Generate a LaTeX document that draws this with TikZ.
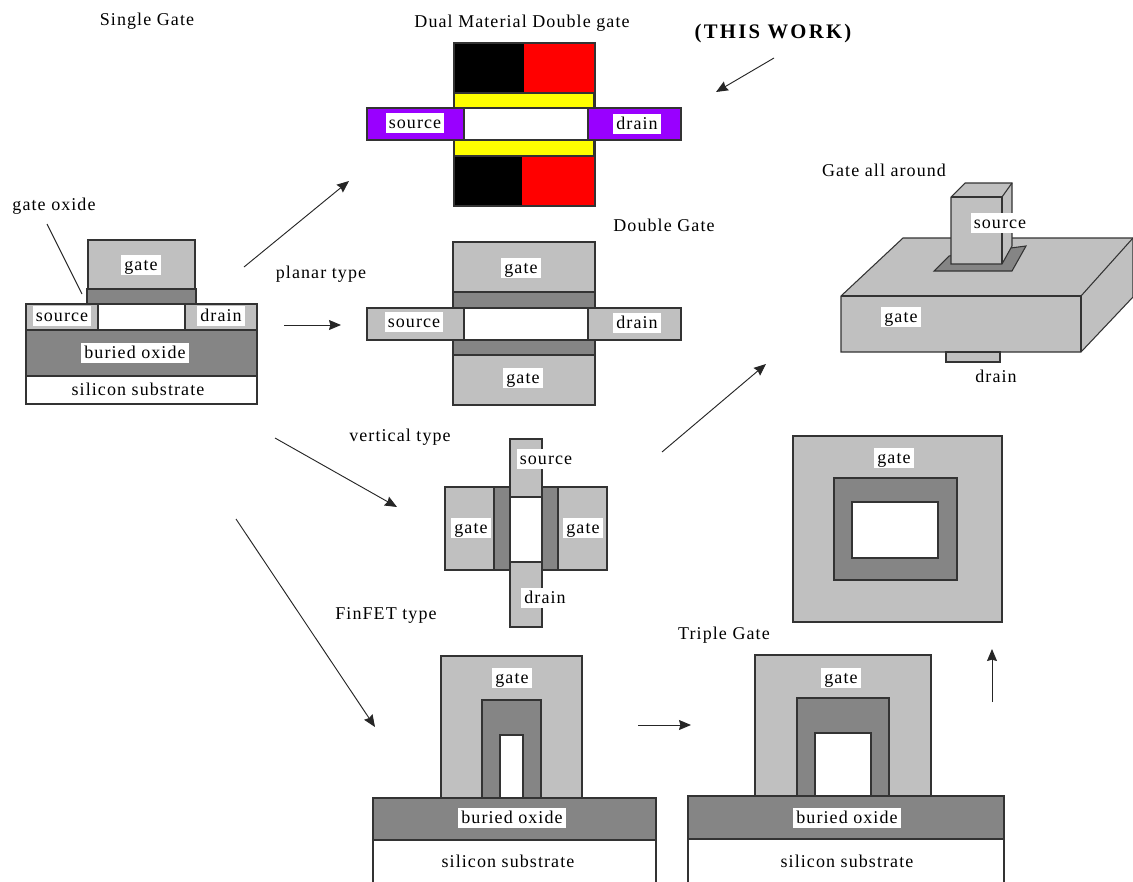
\documentclass[tikz,border=0pt]{standalone}
\usepackage{fontspec}
\setmainfont[LetterSpace=6]{Liberation Serif}
\usetikzlibrary{arrows.meta}
\definecolor{lgray}{HTML}{C0C0C0}
\definecolor{dgray}{HTML}{858585}
\definecolor{purp}{HTML}{9900FF}
\definecolor{yell}{HTML}{FFFF00}
\definecolor{redd}{HTML}{FF0000}
\tikzset{
  x=0.75pt,y=-0.75pt,
  box/.style={draw=black!80,line width=0.8pt},
  gatefill/.style={box,fill=lgray},
  oxfill/.style={box,fill=dgray},
  whitefill/.style={box,fill=white},
  purpfill/.style={box,fill=purp},
  lab/.style={fill=white,inner xsep=2.2pt,inner ysep=1.5pt,yshift=-1pt,font=\fontsize{13.5}{15}\selectfont,text height=9.5pt,text depth=2.5pt},
  captxt/.style={inner sep=0pt,yshift=-1pt,font=\fontsize{13.5}{15}\selectfont,text height=9.5pt,text depth=2.5pt},
  arr/.style={draw=black!85,line width=0.7pt,-{Stealth[length=9pt,width=7.5pt,inset=1pt]}},
  plain/.style={draw=black!85,line width=0.7pt}
}
\begin{document}
\begin{tikzpicture}
\useasboundingbox (0,0) rectangle (1133,882);
% ---- Single gate
\node[captxt] (tSingle) at (147,19) {Single Gate};
\node[captxt] (tOxide) at (54,204) {gate oxide};
\draw[gatefill] (88,240) rectangle (195,289);
\draw[whitefill] (26,304) rectangle (257,404);
\draw[gatefill] (26,304) rectangle (98,330);
\draw[gatefill] (185,304) rectangle (257,330);
\draw[oxfill] (26,330) rectangle (257,376);
\draw[oxfill] (87,289) rectangle (196,304);
\node[lab] (sSrc) at (62,315) {source};
\node[lab] (sDrn) at (221,315) {drain};
\node[lab] (sGate) at (141,264) {gate};
\node[lab] (sBox) at (135,352) {buried oxide};
\node[captxt] (sSub) at (138,389) {silicon substrate};
\coordinate (oxA) at (47,224);
\coordinate (oxB) at (82,294);
\draw[plain] (oxA) -- (oxB);
% ---- Dual material
\node[captxt] (tDual) at (522,21) {Dual Material Double gate};
\node[captxt,font=\fontsize{15.5}{17}\selectfont\bfseries\addfontfeature{LetterSpace=11}] (tWork) at (773,32) {(THIS WORK)};
\fill[black] (454,43) rectangle (524,93);
\fill[redd] (524,43) rectangle (595,93);
\fill[black] (454,156) rectangle (522,206);
\fill[redd] (522,156) rectangle (595,206);
\draw[box] (454,43) rectangle (595,206);
\draw[box,fill=yell] (454,93) rectangle (594,108);
\draw[box,fill=yell] (454,140) rectangle (594,156);
\draw[purpfill] (367,108) rectangle (464,140);
\draw[purpfill] (588,108) rectangle (681,140);
\draw[whitefill] (464,108) rectangle (588,140);
\node[lab] (dSrc) at (415,122) {source};
\node[lab] (dDrn) at (637,123) {drain};
\coordinate (wkA) at (774,58);
\coordinate (wkB) at (716,92);
\draw[arr] (wkA) -- (wkB);
% ---- Double gate
\node[captxt] (tDouble) at (664,225) {Double Gate};
\draw[gatefill] (453,242) rectangle (595,292);
\draw[gatefill] (453,355) rectangle (595,405);
\draw[oxfill] (453,292) rectangle (595,308);
\draw[oxfill] (453,340) rectangle (595,355);
\draw[gatefill] (367,308) rectangle (464,340);
\draw[gatefill] (588,308) rectangle (681,340);
\draw[whitefill] (464,308) rectangle (588,340);
\node[lab] (gGate1) at (521,267) {gate};
\node[lab] (gGate2) at (523,377) {gate};
\node[lab] (gSrc) at (414,321) {source};
\node[lab] (gDrn) at (637,322) {drain};
\node[captxt] (tPlanar) at (321,272) {planar type};
% ---- Vertical
\node[captxt] (tVert) at (400,435) {vertical type};
\draw[gatefill] (445,487) rectangle (494,570);
\draw[gatefill] (558,487) rectangle (607,570);
\draw[oxfill] (494,487) rectangle (510,570);
\draw[oxfill] (542,487) rectangle (558,570);
\draw[whitefill] (510,497) rectangle (542,562);
\draw[gatefill] (510,439) rectangle (542,497);
\draw[gatefill] (510,562) rectangle (542,627);
\node[lab] (vSrc) at (546,458) {source};
\node[lab] (vDrn) at (545,597) {drain};
\node[lab] (vG1) at (471,527) {gate};
\node[lab] (vG2) at (583,527) {gate};
% ---- Gate all around
\node[captxt] (tGaa) at (884,170) {Gate all around};
\draw[gatefill] (841,296) -- (903,238) -- (1133,238) -- (1133,297) -- (1081,352) -- (841,352) -- cycle;
\draw[box] (841,296) -- (1081,296) -- (1081,352);
\draw[box] (1081,296) -- (1133,238);
\draw[oxfill] (934,271) -- (949,256) -- (1026,246) -- (1012,271) -- cycle;
\draw[gatefill] (951,197) -- (965,183) -- (1012,183) -- (1012,246) -- (1002,264) -- (951,264) -- cycle;
\draw[box] (951,197) -- (1002,197) -- (1002,264);
\draw[box] (1002,197) -- (1012,183);
\draw[gatefill] (946,352) rectangle (1000,362);
\node[lab] (aSrc) at (1000,222) {source};
\node[lab] (aG) at (901,316) {gate};
\node[captxt] (aDrn) at (996,376) {drain};
% ---- GAA section
\draw[gatefill] (793,436) rectangle (1002,622);
\draw[oxfill] (834,478) rectangle (957,580);
\draw[whitefill] (852,502) rectangle (938,558);
\node[lab] (xG) at (894,457) {gate};
% ---- FinFET
\node[captxt] (tFin) at (386,613) {FinFET type};
\draw[gatefill] (441,656) rectangle (582,798);
\draw[oxfill] (482,700) rectangle (541,798);
\draw[whitefill] (500,735) rectangle (523,798);
\draw[oxfill] (373,798) rectangle (656,840);
\draw[box] (373,840) -- (373,890) (656,890) -- (656,840);
\node[lab] (fG) at (512,677) {gate};
\node[lab] (fB) at (512,817) {buried oxide};
\node[captxt] (fS) at (508,861) {silicon substrate};
% ---- Triple
\node[captxt] (tTri) at (724,633) {Triple Gate};
\draw[gatefill] (755,655) rectangle (931,796);
\draw[oxfill] (797,698) rectangle (889,796);
\draw[whitefill] (815,733) rectangle (871,796);
\draw[oxfill] (688,796) rectangle (1004,839);
\draw[box] (688,890) -- (688,839) (1004,839) -- (1004,890);
\node[lab] (rG) at (841,677) {gate};
\node[lab] (rB) at (847,817) {buried oxide};
\node[captxt] (rS) at (847,861) {silicon substrate};
% ---- Arrows
\coordinate (a1) at (244,267); \coordinate (a2) at (349,181);
\draw[arr] (a1) -- (a2);
\coordinate (b1) at (284,325); \coordinate (b2) at (341,325);
\draw[arr] (b1) -- (b2);
\coordinate (c1) at (275,438); \coordinate (c2) at (397,507);
\draw[arr] (c1) -- (c2);
\coordinate (d1) at (236,519); \coordinate (d2) at (375,727);
\draw[arr] (d1) -- (d2);
\coordinate (e1) at (662,452); \coordinate (e2) at (766,364);
\draw[arr] (e1) -- (e2);
\coordinate (f1) at (638,725); \coordinate (f2) at (691,725);
\draw[arr] (f1) -- (f2);
\coordinate (g1) at (992,702); \coordinate (g2) at (992,649);
\draw[arr] (g1) -- (g2);
\end{tikzpicture}
\end{document}
